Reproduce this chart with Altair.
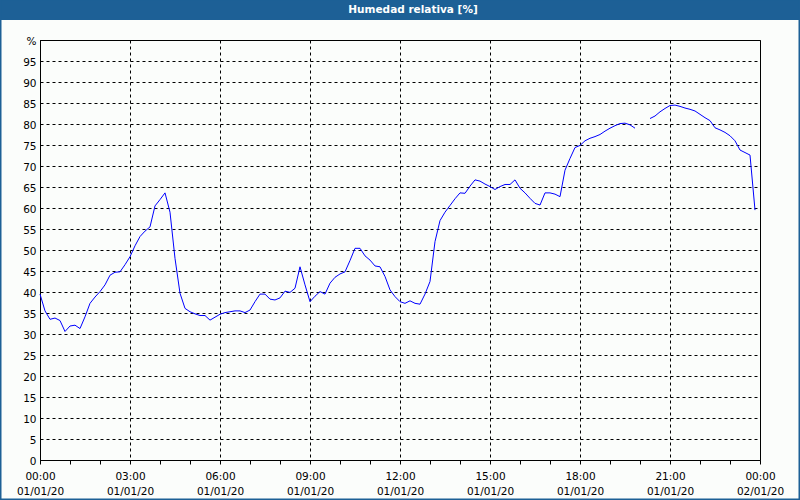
import altair as alt
import pandas as pd

# Relative humidity, 10-minute samples starting 01/01/20 00:00 (None = missing)
values = [
    39.5, 35.5, 33.5, 33.8, 33.2, 30.6, 31.9, 32.1, 31.3, 34.1,
    37.3, 38.8, 40.1, 41.7, 44.0, 44.7, 44.8, 46.5, 48.4, 51.0,
    53.2, 54.5, 55.5, 60.5, 62.0, 63.6, 59.0, 48.0, 39.7, 36.1,
    35.3, 34.8, 34.4, 34.4, 33.3, 34.0, 34.7, 35.1, 35.3, 35.5,
    35.5, 35.1, 35.7, 37.7, 39.5, 39.5, 38.3, 38.1, 38.6, 40.2,
    39.9, 40.9, 46.0, 41.7, 37.7, 39.0, 40.1, 39.5, 42.1, 43.5,
    44.3, 44.8, 47.5, 50.4, 50.4, 48.6, 47.6, 46.2, 46.0, 43.7,
    40.5, 38.9, 37.7, 37.3, 37.9, 37.3, 37.1, 39.5, 42.5, 52.0,
    57.0, 59.0, 60.6, 62.2, 63.6, 63.5, 65.2, 66.7, 66.4, 65.7,
    65.1, 64.4, 65.1, 65.6, 65.6, 66.7, 64.7, 63.6, 62.3, 61.1,
    60.7, 63.6, 63.6, 63.3, 62.7, 69.0, 71.8, 74.4, 74.9, 76.0,
    76.6, 77.0, 77.5, 78.3, 79.0, 79.6, 80.1, 80.2, 79.8, 79.0,
    None, None, 81.3, 81.9, 82.9, 83.7, 84.4, 84.5, 84.2, 83.8,
    83.5, 83.1, 82.3, 81.5, 80.8, 79.1, 78.6, 78.0, 77.2, 76.0,
    73.8, 73.2, 72.6, 59.5,
]
y_ticks = list(range(0, 101, 5))
start_ms = 1577836800000  # 2020-01-01T00:00:00Z
hour_ms = 3600000
x_ticks = [start_ms + h * hour_ms for h in range(25)]

times = pd.date_range("2020-01-01 00:00", periods=len(values), freq="10min")
rows = []
seg = 0
for t, v in zip(times, values):
    if v is None:
        seg += 1
        continue
    rows.append({"t": t.strftime("%Y-%m-%dT%H:%M:%SZ"), "v": v, "seg": seg})
df = pd.DataFrame(rows)

FONT = "DejaVu Sans"
BLUE_BAR = "#1d6096"

line = alt.Chart(df).mark_line(color="#0000ff", strokeWidth=1).encode(
    x=alt.X(
        "t:T",
        scale=alt.Scale(type="utc", domain=[x_ticks[0], x_ticks[-1]], nice=False),
        axis=alt.Axis(
            title=None,
            values=x_ticks,
            labelExpr="utchours(datum.value) % 3 == 0 ? [utcFormat(datum.value, '%H:%M'), utcFormat(datum.value, '%d/%m/%y')] : ''",
            labelFont=FONT,
            labelFontSize=10.5,
            labelColor="#000",
            labelLineHeight=15,
            labelPadding=7,
            labelOverlap=False,
            labelFlush=False,
            tickSize=4,
            tickColor="#000",
            domainColor="#000",
            grid=True,
            gridColor="#000",
            gridDash=[3, 3],
            gridOpacity={"condition": {"test": "utchours(datum.value) % 3 == 0", "value": 1}, "value": 0},
        ),
    ),
    y=alt.Y(
        "v:Q",
        scale=alt.Scale(domain=[0, 100], nice=False),
        axis=alt.Axis(
            title=None,
            values=y_ticks,
            labelExpr="datum.value == 100 ? '%' : datum.label",
            labelFont=FONT,
            labelFontSize=10.5,
            labelColor="#000",
            labelPadding=4,
            labelBaseline="middle",
            labelOffset=1.5,
            tickSize=0,
            domainColor="#000",
            grid=True,
            gridColor="#000",
            gridDash=[3, 3],
        ),
    ),
    detail="seg:N",
)

deco = alt.Data(values=[{"a": 1}])
bar = alt.Chart(deco).mark_rect(color=BLUE_BAR, clip=False).encode(
    x=alt.value(-40), x2=alt.value(760), y=alt.value(-40), y2=alt.value(-20)
)
frame = alt.Chart(deco).mark_rect(filled=False, stroke=BLUE_BAR, strokeWidth=1.5, clip=False).encode(
    x=alt.value(-39.25), x2=alt.value(759.25), y=alt.value(-40), y2=alt.value(459.25)
)
title = alt.Chart(deco).mark_text(
    text="Humedad relativa [%]", font=FONT, fontSize=10.5, fontWeight="bold",
    color="white", align="center", baseline="middle", clip=False,
).encode(x=alt.value(373), y=alt.value(-30))

chart = alt.layer(bar, frame, line, title).properties(
    width=720,
    height=420,
    padding={"left": 40, "top": 40, "right": 40, "bottom": 40},
    autosize=alt.AutoSizeParams(type="none"),
    background="#fbfdfb",
).configure_view(stroke="#000", strokeWidth=1, fill="#fbfdfb")

chart.save("out.html", embed_options={"renderer": "svg", "actions": False})
